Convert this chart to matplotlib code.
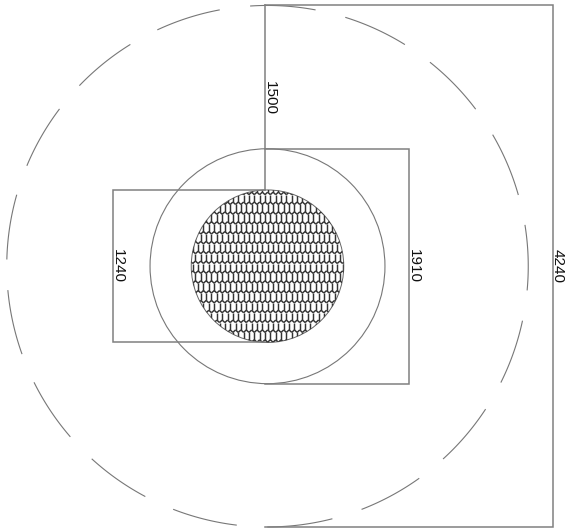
#!/usr/bin/env python3
"""
Concentric circles with dimension brackets and a hex hole pattern
"""

import numpy as np
import matplotlib
matplotlib.use('Agg')
import matplotlib.pyplot as plt
from matplotlib.patches import Circle
from matplotlib.collections import LineCollection

# Dimensions, same units as the labels on the drawing
outer_dia = 4240
middle_dia = 1910
inner_dia = 1240
stem_len = 1500
dim_labels = ['4240', '1910', '1240', '1500']

# Outer dashed circle: start angle of one dash, dash length, number of dashes
dash_start = 79.5
dash_len = 14.2
n_dashes = 17

# Hex cell size inside the inner circle
cell_w = 43.5
cell_h = 80.0
cell_tip = 10.0

W, H = 565, 528
cx, cy = 265.0, 266.2
px_per_unit = 521.5 / outer_dia

fig = plt.figure(figsize=(W / 100, H / 100), dpi=100)
ax = fig.add_axes([0, 0, 1, 1])
ax.set_xlim(-cx / px_per_unit, (W - cx) / px_per_unit)
ax.set_ylim(-(H - cy) / px_per_unit, cy / px_per_unit)
ax.axis('off')

line_col = '#777777'
lw = 0.8

R_out = outer_dia / 2
R_mid = middle_dia / 2
R_in = inner_dia / 2

# circles sit a little right of the bracket ends
x0 = 2.5 / px_per_unit
row_shift = -1.0 / px_per_unit

# Outer dashed circle
for i in range(n_dashes):
    a0 = dash_start + i * 360 / n_dashes
    th = np.radians(np.linspace(a0, a0 + dash_len, 30))
    ax.plot(x0 + R_out * np.cos(th), R_out * np.sin(th), color=line_col, lw=lw)

# Middle circle
ax.add_patch(Circle((x0, 0), R_mid, fill=False, ec=line_col, lw=lw))

# Hex pattern, clipped to the inner circle
segs = []
n_rows = int(R_in / cell_h) + 2
n_cols = int(R_in / cell_w) + 2
for r in range(-n_rows, n_rows + 1):
    y = r * cell_h + row_shift
    off = cell_w / 2 if r % 2 else 0
    for c in range(-n_cols, n_cols + 1):
        x = c * cell_w + off
        # sides of the cell
        segs.append([(x - cell_w / 2, y - cell_h / 2 + cell_tip), (x - cell_w / 2, y + cell_h / 2 - cell_tip)])
        # roof and floor, zigzag
        segs.append([(x - cell_w / 2, y + cell_h / 2 - cell_tip), (x, y + cell_h / 2 + cell_tip)])
        segs.append([(x, y + cell_h / 2 + cell_tip), (x + cell_w / 2, y + cell_h / 2 - cell_tip)])
hex_lines = LineCollection(segs, colors='#333333', linewidths=1.05)
ax.add_collection(hex_lines)
clip = Circle((x0, 0), R_in, transform=ax.transData)
hex_lines.set_clip_path(clip)
ax.add_patch(Circle((x0, 0), R_in, fill=False, ec='#666666', lw=0.7))

# Dimension brackets
bracket = dict(color='#808080', lw=1.1, solid_joinstyle='miter')
x_4240 = 288 / px_per_unit
ax.plot([0, x_4240, x_4240, 0], [R_out, R_out, -R_out, -R_out], **bracket)
x_1910 = 144 / px_per_unit
ax.plot([0, x_1910, x_1910, 0], [R_mid, R_mid, -R_mid, -R_mid], **bracket)
x_1240 = -151.7 / px_per_unit
ax.plot([0, x_1240, x_1240, 0], [R_in, R_in, -R_in, -R_in], **bracket)
ax.plot([0, 0], [R_in, R_in + stem_len], **bracket)

# Labels read downward, baseline right on their lines
txt = dict(rotation=-90, ha='left', va='center', fontsize=11, family='Liberation Sans', color='#111111')
gap = -2.5 / px_per_unit
ax.text(x_4240 + gap, 0, dim_labels[0], **txt)
ax.text(x_1910 + gap, 0, dim_labels[1], **txt)
ax.text(x_1240 + gap, 0, dim_labels[2], **txt)
ax.text(gap, R_in + stem_len * 0.5, dim_labels[3], **txt)

fig.savefig('out.png', dpi=100)
